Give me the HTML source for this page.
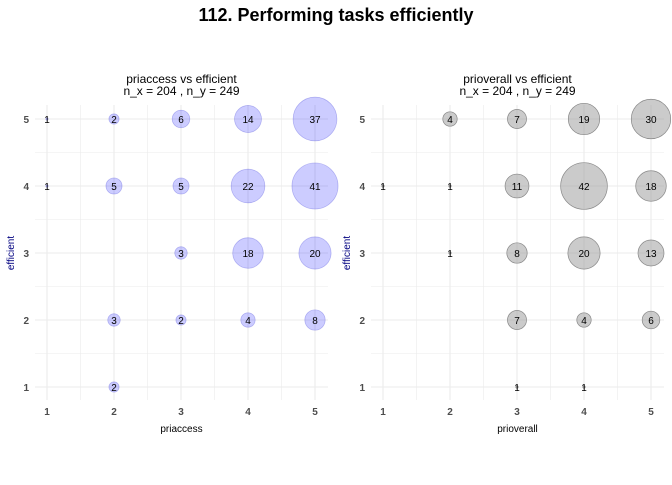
<!DOCTYPE html>
<html><head><meta charset="utf-8"><style>
body{margin:0;background:#fff;width:672px;height:480px;overflow:hidden}
text{font-family:"Liberation Sans",sans-serif}
</style></head><body>
<svg id="chart" width="672" height="480">
<text x="336" y="21" text-anchor="middle" font-size="18" font-weight="bold" fill="#000">112. Performing tasks efficiently</text>
</svg>
<script>
const xLevels=[1,2,3,4,5];
const yLevels=[1,2,3,4,5];
const leftCells=[[1,5,1],[2,5,2],[3,5,6],[4,5,14],[5,5,37],[1,4,1],[2,4,5],[3,4,5],[4,4,22],[5,4,41],[3,3,3],[4,3,18],[5,3,20],[2,2,3],[3,2,2],[4,2,4],[5,2,8],[2,1,2]];
const rightCells=[[2,5,4],[3,5,7],[4,5,19],[5,5,30],[1,4,1],[2,4,1],[3,4,11],[4,4,42],[5,4,18],[2,3,1],[3,3,8],[4,3,20],[5,3,13],[3,2,7],[4,2,4],[5,2,6],[3,1,1],[4,1,1]];
const svg=document.getElementById('chart');
const NS='http://www.w3.org/2000/svg';
function mk(tag,attrs,parent){const e=document.createElementNS(NS,tag);for(const k in attrs)e.setAttribute(k,attrs[k]);(parent||svg).appendChild(e);return e;}
function panel(px0,px1,xName,title,cells,fill,stroke,key){
  const g=mk('g',{});
  
  
  const x1=px0+12, step=67;
  const xs=v=>x1+(v-1)*step;
  const ys=v=>119+(5-v)*67;
  const top=105,bot=400;
  for(let v=0.5;v<=5.5;v+=0.5){
    const yy=ys(v); if(yy<top||yy>bot) continue;
    mk('line',{x1:px0,x2:px1,y1:yy,y2:yy,stroke:'#ebebeb','stroke-width':v%1?0.6:1.1},g);
    const xx=xs(v); if(xx>=px0&&xx<=px1) mk('line',{x1:xx,x2:xx,y1:top,y2:bot,stroke:'#ebebeb','stroke-width':v%1?0.6:1.1},g);
  }
  xLevels.forEach(v=>{const t=mk('text',{x:xs(v),y:415,'text-anchor':'middle','font-size':10,'font-weight':'bold',fill:'#4d4d4d'},g);t.textContent=v;
    
    });
  yLevels.forEach(v=>{const t=mk('text',{x:px0-6,y:ys(v)+4,'text-anchor':'end','font-size':10,'font-weight':'bold',fill:'#4d4d4d'},g);t.textContent=v;
    
    });
  cells.forEach(c=>{
    const r=c[2]<=1?1.2:3.6*Math.sqrt(c[2]);
    const ci=mk('circle',{cx:xs(c[0]),cy:ys(c[1]),r:r,fill:fill,stroke:stroke,'stroke-width':0.7},g);
    
    
    const t=mk('text',{x:xs(c[0]),y:ys(c[1])+4,'text-anchor':'middle','font-size':10,fill:'#000'},g);t.textContent=c[2];
    
    
  });
  const cx=(px0+px1)/2;
  const t1=mk('text',{x:cx,y:83,'text-anchor':'middle','font-size':12},g);t1.textContent=title;
  
  
  const t2=mk('text',{x:cx,y:95,'text-anchor':'middle','font-size':12},g);t2.textContent='n_x = 204 , n_y = 249';
  
  
  const xt=mk('text',{x:cx,y:432,'text-anchor':'middle','font-size':10},g);xt.textContent=xName;
  
  
  const yt=mk('text',{x:0,y:0,'text-anchor':'middle','font-size':10,fill:'#000080',transform:`translate(${px0-21},253) rotate(-90)`},g);yt.textContent='efficient';
  
  
}
panel(35,328,'priaccess','priaccess vs efficient',leftCells,'rgba(0,0,255,0.2)','rgba(0,0,200,0.25)','left');
panel(371,664,'prioverall','prioverall vs efficient',rightCells,'rgba(160,160,160,0.55)','#888','right');
</script>
</body></html>
